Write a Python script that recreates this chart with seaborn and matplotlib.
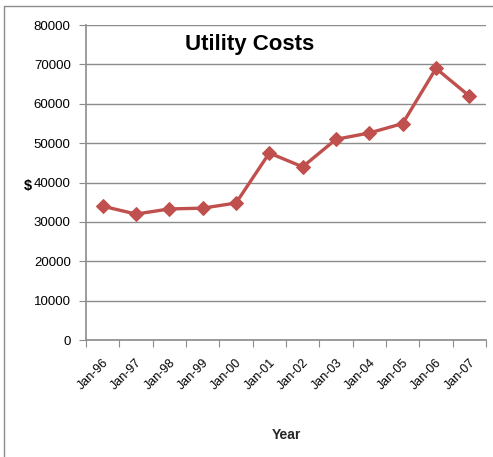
import numpy as np
import pandas as pd
import matplotlib
matplotlib.use('Agg')
import matplotlib.pyplot as plt
import seaborn as sns

years = ['Jan-96', 'Jan-97', 'Jan-98', 'Jan-99', 'Jan-00', 'Jan-01',
         'Jan-02', 'Jan-03', 'Jan-04', 'Jan-05', 'Jan-06', 'Jan-07']
costs = [34000, 32000, 33300, 33500, 34800, 47500,
         44000, 51000, 52600, 55000, 69000, 62000]
yticks = [0, 10000, 20000, 30000, 40000, 50000, 60000, 70000, 80000]

sns.set_style('white')
plt.rcParams['font.family'] = ['Liberation Sans', 'DejaVu Sans']
plt.rcParams['text.color'] = 'black'

df = pd.DataFrame({'Year': years, 'Cost': costs})

fig = plt.figure(figsize=(4.93, 4.57), dpi=100)
ax = fig.add_axes([0.1744, 0.256, 0.8114, 0.689])

sns.lineplot(data=df, x='Year', y='Cost', color='#C0504D', linewidth=2.4,
             marker='D', markersize=7, markeredgecolor='#C0504D', ax=ax)

ax.set_xlim(-0.5, len(years) - 0.5)
ax.set_ylim(0, 80000)
ax.set_yticks(yticks)
ax.set_yticklabels([str(v) for v in yticks], fontsize=9.5, color='black')
ax.yaxis.grid(True, color='#8c8c8c', linewidth=1.0)
ax.set_axisbelow(True)

# boundary ticks + centred labels
ax.set_xticks(np.arange(-0.5, len(years), 1.0))
ax.set_xticklabels([])
ax.set_xticks(np.arange(len(years)), minor=True)
ax.set_xticklabels(years, minor=True, rotation=45, ha='right',
                   rotation_mode='anchor', fontsize=9, color='black')
ax.tick_params(axis='x', which='major', length=5, color='#8c8c8c', direction='out', bottom=True)
ax.tick_params(axis='x', which='minor', length=0, pad=12)
ax.tick_params(axis='y', length=5, color='#8c8c8c', direction='out', left=True, pad=6)

for s in ['top', 'right']:
    ax.spines[s].set_visible(False)
for s in ['left', 'bottom']:
    ax.spines[s].set_color('#8c8c8c')
    ax.spines[s].set_linewidth(1.2)

ax.set_xlabel('Year', fontsize=10, fontweight='bold', labelpad=26)
ax.set_ylabel('')
fig.text(0.057, 0.593, '$', fontsize=10.5, fontweight='bold', ha='center', va='center')
fig.text(0.507, 0.903, 'Utility Costs', fontsize=16, fontweight='bold', ha='center', va='center')

# chart-area border (left and top only)
fig.add_artist(plt.Line2D([0.008, 0.008], [0.0, 0.987], transform=fig.transFigure,
                          color='#8c8c8c', linewidth=1.0))
fig.add_artist(plt.Line2D([0.008, 1.0], [0.987, 0.987], transform=fig.transFigure,
                          color='#8c8c8c', linewidth=1.0))

fig.savefig('out.png', dpi=100)
